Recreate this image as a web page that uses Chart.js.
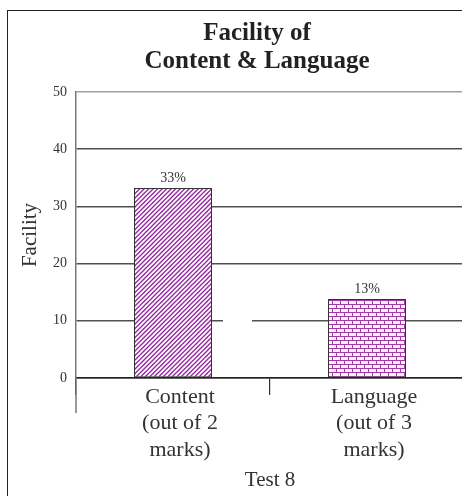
<!DOCTYPE html>
<html>
<head>
<meta charset="utf-8">
<script src="https://cdn.jsdelivr.net/npm/chart.js@4/dist/chart.umd.min.js"></script>
<style>
  html, body { margin: 0; padding: 0; background: #fff; overflow: hidden; }
  #frame { position: absolute; left: 7px; top: 10px; width: 520px; height: 520px; border: 1.5px solid #222; }
  #wrap { position: absolute; left: 0; top: 0; width: 470px; height: 496px; }
</style>
</head>
<body>
<div id="frame"></div>
<div id="wrap"><canvas id="chart" width="470" height="496"></canvas></div>
<script>
  const categories = [["Content", "(out of 2", "marks)"], ["Language", "(out of 3", "marks)"]];
  const facility = [33.2, 13.8];
  const valueLabels = ["33%", "13%"];
  const titleLines = ["Facility of", "Content & Language"];
  const yTicks = [0, 10, 20, 30, 40, 50];

  const serif = '"Liberation Serif", "Times New Roman", serif';

  function stripePattern() {
    const c = document.createElement("canvas");
    c.width = 9;
    c.height = 9;
    const g = c.getContext("2d");
    g.fillStyle = "#fff";
    g.fillRect(0, 0, 9, 9);
    g.strokeStyle = "#9424a0";
    g.lineWidth = 1.3;
    // lines x + y = k, spaced 4.5px
    [0, 4.5, 9, 13.5, 18].forEach(k => {
      g.beginPath();
      g.moveTo(k - 10, 10);
      g.lineTo(k + 10, -10);
      g.stroke();
    });
    return g.createPattern(c, "repeat");
  }

  function brickPattern() {
    const c = document.createElement("canvas");
    c.width = 8;
    c.height = 8;
    const g = c.getContext("2d");
    g.fillStyle = "#fbeffb";
    g.fillRect(0, 0, 8, 8);
    g.fillStyle = "#a23aa8";
    g.fillRect(0, 0, 8, 1);
    g.fillRect(0, 4, 8, 1);
    g.fillRect(0, 0, 1, 4);
    g.fillRect(4, 4, 1, 4);
    return g.createPattern(c, "repeat");
  }

  const extras = {
    id: "extras",
    beforeDatasetsDraw(chart) {
      const { ctx, chartArea } = chart;
      const x = chart.scales.x;
      const y = chart.scales.y;
      // small break in the 10 line between the categories
      const y10 = y.getPixelForValue(10);
      const x0 = x.getPixelForValue(0);
      const half = (x.getPixelForValue(1) - x0) / 2;
      ctx.save();
      ctx.fillStyle = "#fff";
      ctx.fillRect(x0 + 50, y10 - 2, half - 68, 4);
      // left axis runs below the base line
      ctx.strokeStyle = "#777";
      ctx.lineWidth = 1.5;
      ctx.beginPath();
      ctx.moveTo(chartArea.left, chartArea.bottom);
      ctx.lineTo(chartArea.left, chartArea.bottom + 35);
      ctx.stroke();
      ctx.restore();
    },
    afterDatasetsDraw(chart) {
      const { ctx } = chart;
      const meta = chart.getDatasetMeta(0);
      ctx.save();
      ctx.fillStyle = "#333";
      ctx.font = "14px " + serif;
      ctx.textAlign = "center";
      ctx.textBaseline = "alphabetic";
      meta.data.forEach((bar, i) => {
        ctx.fillText(valueLabels[i], bar.x, bar.y - 6);
      });
      ctx.fillStyle = "#222";
      ctx.font = "bold 25px " + serif;
      ctx.fillText(titleLines[0], 257, 40);
      ctx.fillText(titleLines[1], 257, 68);
      ctx.restore();
    },
  };

  new Chart(document.getElementById("chart"), {
    type: "bar",
    data: {
      labels: categories,
      datasets: [
        {
          data: facility,
          backgroundColor: [stripePattern(), brickPattern()],
          borderColor: "#333",
          borderWidth: 1,
          borderSkipped: false,
          categoryPercentage: 1,
          barPercentage: 0.402,
        },
      ],
    },
    options: {
      responsive: false,
      animation: false,
      devicePixelRatio: 1,
      layout: { padding: { top: 92, right: 6, left: 0, bottom: 0 } },
      plugins: { legend: { display: false }, tooltip: { enabled: false }, title: { display: false } },
      scales: {
        x: {
          offset: true,
          afterFit(scale) { scale.height = 118; },
          grid: {
            offset: true,
            drawOnChartArea: false,
            tickLength: 17,
            color: "#333",
            lineWidth: 1.2,
          },
          border: { color: "#222", width: 1.5 },
          ticks: {
            color: "#333",
            font: { family: serif, size: 22, lineHeight: 1.2 },
            padding: -11,
            labelOffset: 7,
            maxRotation: 0,
            autoSkip: false,
          },
          title: {
            display: true,
            text: "Test 8",
            color: "#333",
            font: { family: serif, size: 21, lineHeight: 1.2 },
            padding: { top: 0, bottom: 3 },
          },
        },
        y: {
          min: 0,
          max: 50,
          afterFit(scale) { scale.width = 76; },
          afterBuildTicks(scale) { scale.ticks = yTicks.map(v => ({ value: v })); },
          grid: {
            drawTicks: false,
            color: ctx => (ctx.tick && ctx.tick.value === 50 ? "#a0a0a0" : "#505050"),
            lineWidth: 1.5,
          },
          border: { color: "#777", width: 1.5 },
          ticks: {
            color: "#333",
            font: { family: serif, size: 14 },
            padding: 9,
          },
          title: {
            display: true,
            text: "Facility",
            color: "#333",
            font: { family: serif, size: 21, lineHeight: 1.2 },
            padding: { top: 18, bottom: 0 },
          },
        },
      },
    },
    plugins: [extras],
  });
</script>
</body>
</html>
